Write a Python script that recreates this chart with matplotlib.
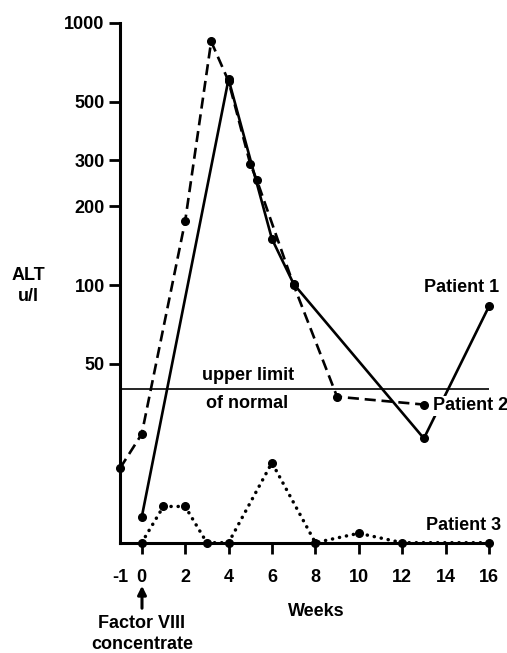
import matplotlib
matplotlib.use("Agg")
import matplotlib.pyplot as plt

# ---- data ----
p1_weeks = [0, 4, 6, 7, 13, 16]
p1_alt = [13, 610, 150, 101, 26, 83]

p2_weeks = [-1, 0, 2, 3.2, 4, 5, 5.3, 7, 9, 13]
p2_alt = [20, 27, 175, 850, 600, 290, 252, 100, 37.5, 35]

p3_weeks = [0, 1, 2, 3, 4, 6, 8, 10, 12, 16]
p3_alt = [10.4, 14.3, 14.3, 10.4, 10.4, 21, 10.4, 11.3, 10.4, 10.4]

upper_limit = 40
y_ticks = [50, 100, 200, 300, 500, 1000]
x_ticks = [-1, 0, 2, 4, 6, 8, 10, 12, 14, 16]

FONT = ['Liberation Sans', 'DejaVu Sans']
plt.rcParams['font.family'] = FONT
W, H = 507, 653
fig = plt.figure(figsize=(W / 100, H / 100), dpi=100)
ax = fig.add_axes([120 / W, 1 - 542.7 / H, (489 - 120) / W, (542.7 - 23) / H])
ax.set_yscale('log')
ax.set_xlim(-1, 16)
ax.set_ylim(10.4, 1000)

k = 'black'
ax.plot(p1_weeks, p1_alt, color=k, lw=1.9, marker='o', ms=5.5, clip_on=False, zorder=3)
ax.plot(p2_weeks, p2_alt, color=k, lw=1.9, ls=(0, (4.2, 2.2)), marker='o', ms=5.5,
        clip_on=False, zorder=3)
ax.plot(p3_weeks, p3_alt, color=k, lw=2.5, ls=(0, (0.05, 2.0)), dash_capstyle='round',
        marker='o', ms=5.5, clip_on=False, zorder=3)
ax.axhline(upper_limit, color=k, lw=1.2, zorder=2)

for s in ['top', 'right']:
    ax.spines[s].set_visible(False)
for s in ['left', 'bottom']:
    ax.spines[s].set_linewidth(2.2)

ax.set_yticks(y_ticks)
ax.set_yticklabels([str(v) for v in y_ticks])
ax.yaxis.set_minor_locator(matplotlib.ticker.NullLocator())
ax.set_xticks(x_ticks)
ax.set_xticklabels([str(v) for v in x_ticks])
ax.tick_params(axis='both', direction='out', length=8, width=2, labelsize=13, pad=3)
ax.tick_params(axis='x', pad=11)
ax.xaxis.get_major_ticks()[0].tick1line.set_visible(False)
for lab in ax.get_xticklabels() + ax.get_yticklabels():
    lab.set_fontweight('bold')

def fx(x):
    return x / W
def fy(y):
    return 1 - y / H

tk = dict(fontsize=13, fontweight='bold', color=k)
fig.text(fx(28), fy(286), 'ALT\nu/l', ha='center', va='center', linespacing=1.3, **tk)
fig.text(fx(248), fy(375), 'upper limit', ha='center', va='center', **tk)
fig.text(fx(247), fy(403), 'of normal', ha='center', va='center', **tk)
fig.text(fx(462), fy(288), 'Patient 1', ha='center', va='center', **tk)
fig.text(fx(433), fy(406), 'Patient 2', ha='left', va='center', zorder=5,
         bbox=dict(facecolor='white', edgecolor='none', pad=1), **tk)
fig.text(fx(464), fy(525), 'Patient 3', ha='center', va='center', **tk)
fig.text(fx(316), fy(612), 'Weeks', ha='center', va='center', **tk)
fig.text(fx(142), fy(634), 'Factor VIII\nconcentrate', ha='center', va='center',
         linespacing=1.3, **tk)
ax.annotate('', xy=(fx(142), fy(583)), xytext=(fx(142), fy(611)),
            xycoords='figure fraction', textcoords='figure fraction',
            arrowprops=dict(arrowstyle='-|>,head_length=0.5,head_width=0.25',
                            color=k, lw=2.2))

fig.savefig('out.png', dpi=100, facecolor='white')
